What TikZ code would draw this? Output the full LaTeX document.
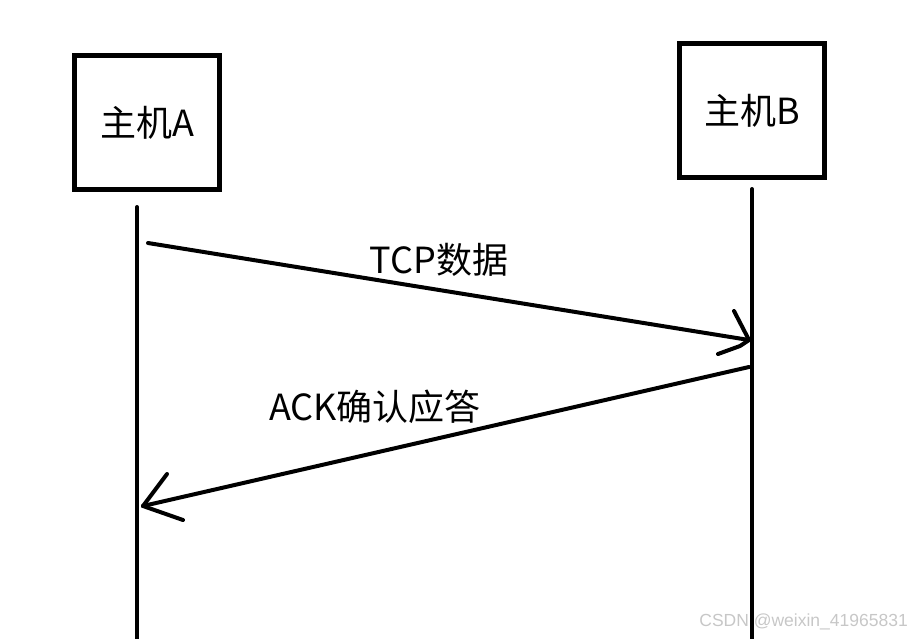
\documentclass[tikz,border=0pt]{standalone}
\usepackage{fontspec}
\newfontfamily\cjk{Noto Sans CJK SC}
\newfontfamily\wm{Liberation Sans}
\begin{document}
\begin{tikzpicture}[x=1pt,y=-1pt,
  hostbox/.style={draw=black,line width=5pt,minimum width=145pt,minimum height=134pt,inner sep=0pt,font=\cjk\fontsize{36}{36}\selectfont},
  lifeline/.style={line width=4pt,line cap=round},
  msg/.style={line width=4pt,line cap=round,line join=round},
  lbl/.style={font=\cjk\fontsize{36}{36}\selectfont,inner sep=0pt}]
\useasboundingbox (0,0) rectangle (912,638);
\node[font=\wm\fontsize{17.5}{17.5}\selectfont,text=black!22,anchor=east,inner sep=0pt] (w) at (908,622) {CSDN @weixin\_41965831};
\node[hostbox] (A) at (147,122.5) {主机A};
\node[hostbox] (B) at (752,110.5) {主机B};
\coordinate (a1) at (137,207);
\coordinate (a2) at (137,640);
\coordinate (b1) at (752,189);
\coordinate (b2) at (752,640);
\draw[lifeline] (a1) -- (a2);
\draw[lifeline] (b1) -- (b2);
% TCP data arrow
\coordinate (s1) at (148,243);
\coordinate (e1) at (749,340);
\coordinate (h1a) at (734,311);
\coordinate (h1b) at (740,346);
\coordinate (h1c) at (718,354);
\draw[msg] (s1) -- (e1);
\draw[msg] (h1a) -- (e1);
\draw[msg] (h1c) -- (h1b) -- (e1);
\node[lbl] (t1) at (439,260) {TCP数据};
% ACK arrow
\coordinate (s2) at (749,367);
\coordinate (e2) at (143,506);
\coordinate (h2a) at (167,474);
\coordinate (h2c) at (183,520);
\draw[msg] (s2) -- (e2);
\draw[msg] (h2a) -- (e2);
\draw[msg] (h2c) -- (e2);
\node[lbl] (t2) at (375,407) {ACK确认应答};
\end{tikzpicture}
\end{document}
